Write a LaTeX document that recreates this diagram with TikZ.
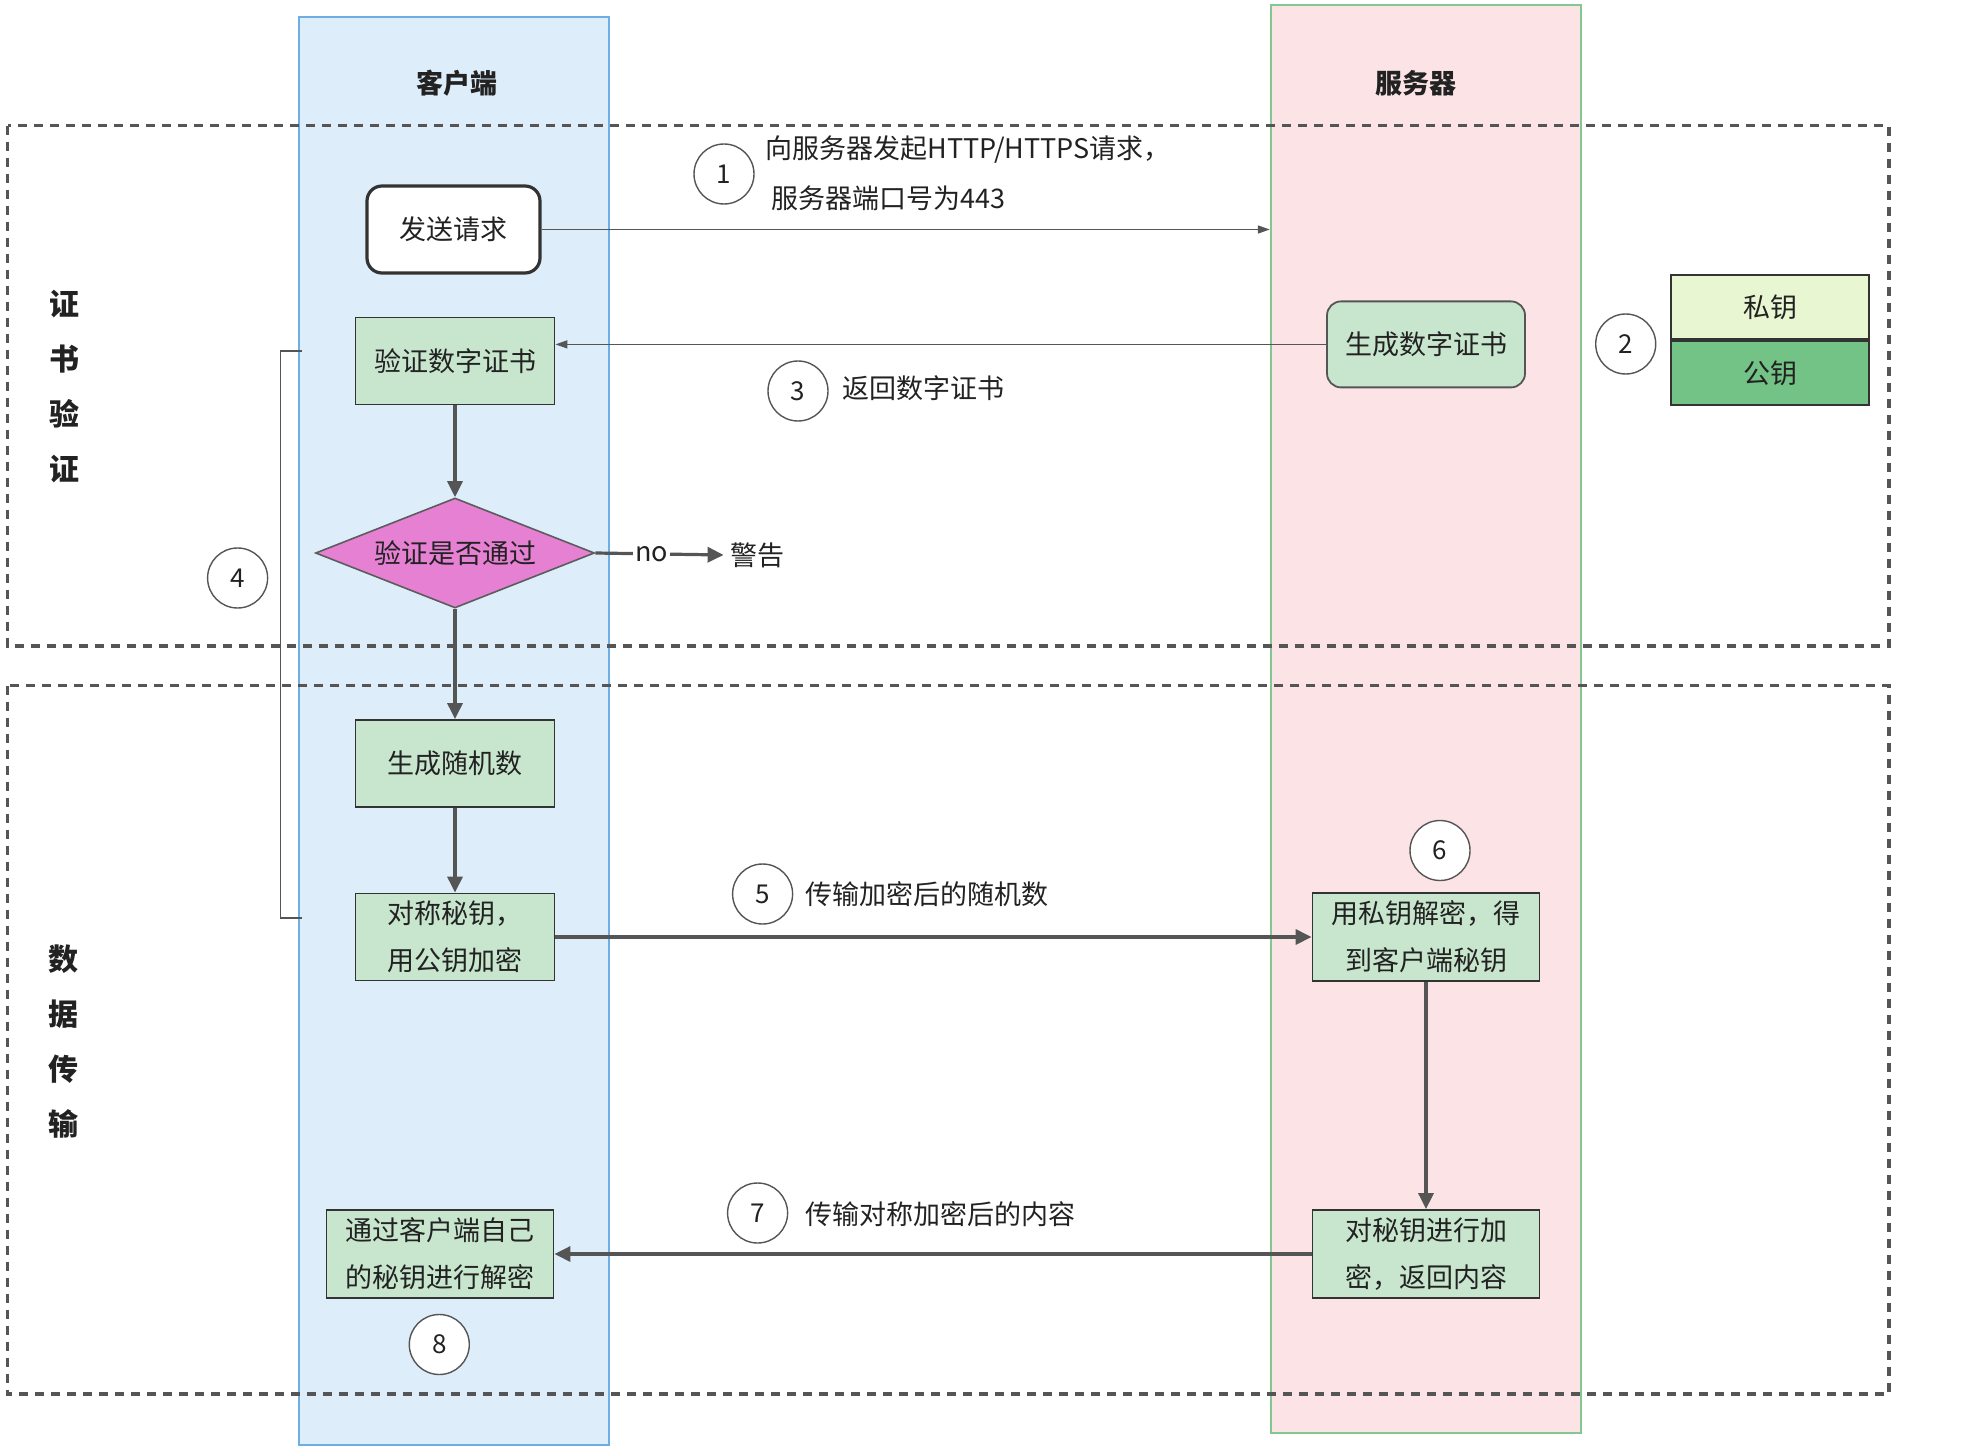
\documentclass[tikz,border=0pt]{standalone}
\usepackage{fontspec}
\setmainfont{Noto Sans CJK SC}
\usetikzlibrary{shapes.geometric,arrows.meta}
\definecolor{clientfill}{HTML}{DEEDFA}
\definecolor{clientline}{HTML}{6FAEE3}
\definecolor{serverfill}{HTML}{FCE4E6}
\definecolor{serverline}{HTML}{82C890}
\definecolor{boxgreen}{HTML}{C8E6CE}
\definecolor{boxline}{HTML}{333333}
\definecolor{checkpink}{HTML}{E580D3}
\definecolor{privgreen}{HTML}{E8F6D2}
\definecolor{pubgreen}{HTML}{74C386}
\definecolor{linegray}{HTML}{555555}
\definecolor{textdark}{HTML}{222222}
\begin{document}
\begin{tikzpicture}
[x=0.5pt,y=-0.5pt,
  lanedecorate/.style={draw,line width=1pt,inner sep=0pt,minimum width=155pt,minimum height=714pt},
  boxdecorate/.style={draw=boxline,fill=boxgreen,line width=0.9pt,inner sep=0pt,
    minimum width=99.5pt,minimum height=43.5pt,align=center,text=textdark,
    font=\fontsize{13.5}{23.5}\selectfont},
  widedecorate/.style={boxdecorate,minimum width=113.5pt,minimum height=44pt},
  keydecorate/.style={boxdecorate,minimum width=99pt,minimum height=32pt},
  numdecorate/.style={shape=circle,draw=linegray,fill=white,line width=0.7pt,
    minimum size=30pt,inner sep=0pt,text=textdark,font=\fontsize{13}{15}\selectfont},
  labeldecorate/.style={anchor=west,inner sep=0pt,text=textdark,font=\fontsize{13.5}{16}\selectfont},
  headdecorate/.style={text=textdark,font=\fontsize{13.5}{16}\selectfont\bfseries},
  sidedecorate/.style={text=textdark,align=center,font=\fontsize{15}{27.5}\selectfont\bfseries},
  dashdecorate/.style={draw=linegray,line width=1.6pt,dash pattern=on 4.5pt off 3.5pt},
  flowdecorate/.style={draw=linegray,line width=1.6pt,-{Triangle[length=8pt,width=7.5pt]}},
  thindecorate/.style={draw=linegray,line width=0.8pt,-{Triangle[length=6pt,width=4pt]}}]
\useasboundingbox (0,0) rectangle (1964,1449);
%% swim lanes
\node[lanedecorate,draw=clientline,fill=clientfill] (clilane) at (453.6,731) {};
\node[lanedecorate,draw=serverline,fill=serverfill] (srvlane) at (1425.8,718.8) {};
\node[headdecorate] (clihead) at (457,83) {客户端};
\node[headdecorate] (srvhead) at (1416,83) {服务器};
%% phases
\draw[dashdecorate] (7.5,125.7) rectangle (1889,646);
\draw[dashdecorate] (7.5,685.6) rectangle (1889,1394);
\node[sidedecorate] (certside) at (64,387) {证\\书\\验\\证};
\node[sidedecorate] (dataside) at (63,1041.5) {数\\据\\传\\输};
%% client steps
\node[boxdecorate,fill=white,draw=boxline,line width=1.6pt,rounded corners=7.5pt,
  minimum width=86.5pt] (send) at (453.5,229.5) {发送请求};
\node[boxdecorate] (verify) at (455,361) {验证数字证书};
\node[shape=diamond,aspect=2.5,draw=boxline!80,fill=checkpink,line width=0.8pt,inner sep=0pt,
  minimum width=139.5pt,minimum height=55pt,text=textdark,
  font=\fontsize{13.5}{16}\selectfont] (check) at (455,553) {验证是否通过};
\node[labeldecorate,inner sep=3pt,anchor=center] (warn) at (757,555) {警告};
\node[boxdecorate] (randnum) at (455,763.5) {生成随机数};
\node[boxdecorate] (symkey) at (455,937) {对称秘钥，\\用公钥加密};
\node[widedecorate] (clidec) at (440,1254) {通过客户端自己\\的秘钥进行解密};
%% server steps
\node[boxdecorate,draw=linegray,rounded corners=7pt,minimum width=99pt,
  minimum height=43pt] (gencert) at (1426,344.4) {生成数字证书};
\node[keydecorate,fill=privgreen] (privkey) at (1770,307) {私钥};
\node[keydecorate,fill=pubgreen] (pubkey) at (1770,373) {公钥};
\node[widedecorate] (srvdec) at (1426,937) {用私钥解密，得\\到客户端秘钥};
\node[widedecorate] (srvenc) at (1426,1254) {对秘钥进行加\\密，返回内容};
%% step numbers
\foreach \nodename/\x/\y/\num in {num1/724/174/1, num2/1625.7/344/2,
  num3/798/391/3, num4/237.6/578/4, num5/762.6/894/5, num6/1440/850.5/6,
  num7/757.6/1213/7, num8/439.3/1344.5/8} {
  \node[numdecorate] (\nodename) at (\x,\y) {\num};
}
\node[labeldecorate] (req1) at (765,150) {向服务器发起HTTP/HTTPS请求，};
\node[labeldecorate] (req2) at (771,198) {服务器端口号为443};
\node[labeldecorate] (retcert) at (842,388) {返回数字证书};
\node[labeldecorate] (sendrand) at (804.6,894) {传输加密后的随机数};
\node[labeldecorate] (sendcont) at (804.6,1214) {传输对称加密后的内容};
%% connectors
\draw[thindecorate] (send.east) -- (send.east -| srvlane.west);
\draw[thindecorate] (gencert.west) -- (gencert.west -| verify.east);
\draw[flowdecorate] (verify) -- (check);
\draw[flowdecorate] (check.east) -- node[pos=0.44,fill=white,inner sep=1pt,
  text=textdark,font=\fontsize{13.5}{16}\selectfont] {no} (warn.west);
\draw[flowdecorate] (check) -- (randnum);
\draw[flowdecorate] (randnum) -- (symkey);
\draw[flowdecorate] (symkey) -- (srvdec);
\draw[flowdecorate] (srvdec) -- (srvenc);
\draw[flowdecorate] (srvenc) -- (clidec.east |- srvenc.west);
\coordinate (brtop) at (302,351);
\coordinate (brbot) at (302,918);
\draw[draw=linegray,line width=0.7pt] (brtop) -- ++(-21.5,0) |- (brbot);
\end{tikzpicture}
\end{document}
